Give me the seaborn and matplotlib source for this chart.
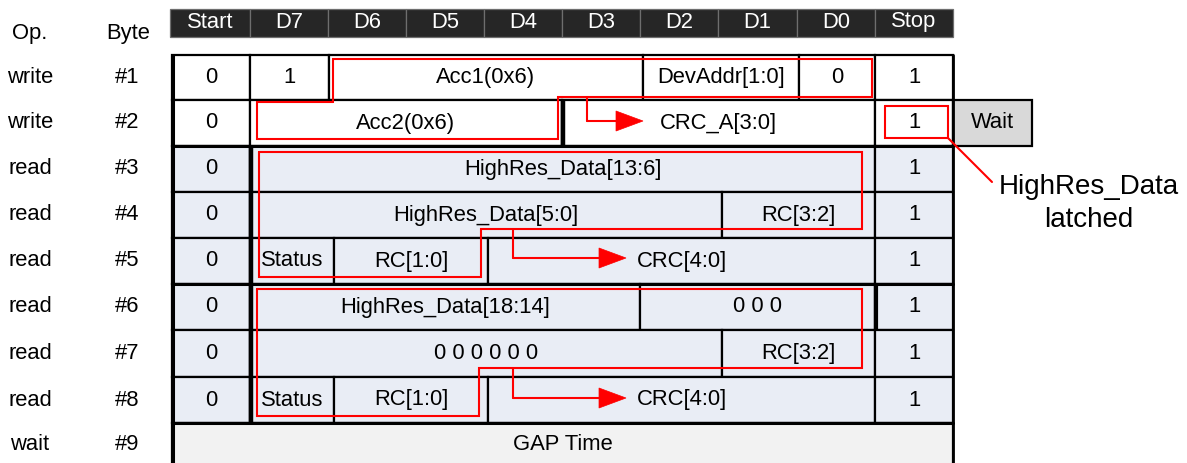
import matplotlib
matplotlib.use("Agg")
import matplotlib.pyplot as plt
from matplotlib.patches import Rectangle, Polygon
import seaborn as sns

sns.set_theme(style="white")
plt.rcParams['font.family'] = ['Liberation Sans', 'DejaVu Sans']
plt.rcParams['text.color'] = 'black'

# ---------------- data ----------------
header_labels = ["Start", "D7", "D6", "D5", "D4", "D3", "D2", "D1", "D0", "Stop"]
ops = ["write", "write", "read", "read", "read", "read", "read", "read", "wait"]
byte_ids = ["#1", "#2", "#3", "#4", "#5", "#6", "#7", "#8", "#9"]
start_bits = ["0", "0", "0", "0", "0", "0", "0", "0"]
stop_bits = ["1", "1", "1", "1", "1", "1", "1", "1"]
row_fields = [
    ["1", "Acc1(0x6)", "DevAddr[1:0]", "0"],
    ["Acc2(0x6)", "CRC_A[3:0]"],
    ["HighRes_Data[13:6]"],
    ["HighRes_Data[5:0]", "RC[3:2]"],
    ["Status", "RC[1:0]", "CRC[4:0]"],
    ["HighRes_Data[18:14]", "0 0 0"],
    ["0 0 0 0 0 0", "RC[3:2]"],
    ["Status", "RC[1:0]", "CRC[4:0]"],
]
gap_label = "GAP Time"
wait_label = "Wait"
note_lines = ["HighRes_Data", "latched"]

# ---------------- layout (pixels) ----------------
W, H = 1187, 463
col_edges = [172, 250, 328, 406, 484, 562, 640, 718, 797, 875, 953]
row_edges = [55, 100, 146, 192, 238, 284, 330, 377, 423, 470]
field_edges = [
    [250, 329, 643, 799, 875],
    [250, 562, 875],
    [250, 875],
    [250, 722, 875],
    [250, 334, 488, 875],
    [250, 640, 875],
    [250, 722, 875],
    [250, 334, 488, 875],
]
row_fill = ["white", "white"] + ["#e9edf5"] * 6
FS = 15.8
RED = "#ff0000"
LW = 1.6

fig = plt.figure(figsize=(W / 100, H / 100), dpi=100)
ax = fig.add_axes([0, 0, 1, 1])
ax.set_xlim(0, W)
ax.set_ylim(H, 0)
ax.axis("off")

# header
ax.text(30, 33, "Op.", ha="center", va="center", fontsize=FS, color="black")
ax.text(128, 33, "Byte", ha="center", va="center", fontsize=FS, color="black")
hx = [170] + col_edges[1:]
for i, lab in enumerate(header_labels):
    ax.add_patch(Rectangle((hx[i], 9), hx[i + 1] - hx[i], 28, facecolor="#262626",
                           edgecolor="#6e6e6e", lw=0.9))
    ax.text((hx[i] + hx[i + 1]) / 2, 22, lab, ha="center", va="center",
            fontsize=FS, color="white")

# row labels
for r in range(9):
    yc = (row_edges[r] + row_edges[r + 1]) / 2
    if r == 8:
        yc = 445
    ax.text(30, yc, ops[r], ha="center", va="center", fontsize=FS, color="black")
    ax.text(127, yc, byte_ids[r], ha="center", va="center", fontsize=FS, color="black")

def cell(x0, x1, y0, y1, label, fill, lw=LW):
    ax.add_patch(Rectangle((x0, y0), x1 - x0, y1 - y0, facecolor=fill,
                           edgecolor="black", lw=lw, zorder=1))
    if label:
        ax.text((x0 + x1) / 2, (y0 + y1) / 2, label, ha="center", va="center",
                fontsize=FS, color="black", zorder=3)

for r in range(8):
    y0, y1 = row_edges[r], row_edges[r + 1]
    cell(col_edges[0], col_edges[1], y0, y1, start_bits[r], row_fill[r])
    edges = field_edges[r]
    for k, lab in enumerate(row_fields[r]):
        cell(edges[k], edges[k + 1], y0, y1, lab, row_fill[r])
    cell(col_edges[9], col_edges[10], y0, y1, stop_bits[r], row_fill[r])

# wait cell
cell(953, 1032, row_edges[1], row_edges[2], wait_label, "#d9d9d9")
# gap row
ax.add_patch(Rectangle((172, 423), 953 - 172, 60, facecolor="#f2f2f2",
                       edgecolor="black", lw=LW, zorder=1))
ax.text(563, 445, gap_label, ha="center", va="center", fontsize=FS, color="black", zorder=3)

# thick separators
ax.plot([251, 251], [146, 423], color="black", lw=3.2, zorder=2, solid_capstyle="butt")
ax.plot([563, 563], [100, 146], color="black", lw=3.2, zorder=2, solid_capstyle="butt")
ax.plot([875.5, 875.5], [284, 330], color="black", lw=3.0, zorder=2, solid_capstyle="butt")
ax.plot([172, 953], [146, 146], color="black", lw=2.2, zorder=2)
ax.plot([172, 953], [284, 284], color="black", lw=2.2, zorder=2)
ax.plot([172, 953], [423, 423], color="black", lw=2.2, zorder=2)
ax.plot([173, 173], [55, 463], color="black", lw=2.2, zorder=2)
ax.plot([953, 953], [55, 463], color="black", lw=2.0, zorder=2)

# ---------------- red overlays ----------------
RLW = 1.5
def path(pts, closed=False):
    xs = [p[0] for p in pts]
    ys = [p[1] for p in pts]
    if closed:
        xs.append(xs[0]); ys.append(ys[0])
    ax.plot(xs, ys, color=RED, lw=RLW, zorder=4, solid_joinstyle="miter")

def arrow_to(x_start, x_tip, y):
    ax.plot([x_start, x_tip - 20], [y, y], color=RED, lw=RLW, zorder=4)
    ax.add_patch(Polygon([(x_tip - 27, y - 10), (x_tip, y), (x_tip - 27, y + 10)],
                         closed=True, facecolor=RED, edgecolor=RED, lw=0.5, zorder=4))

path([(333, 102), (333, 59), (872, 59), (872, 97), (558, 97), (558, 139),
      (257, 139), (257, 102)], closed=True)
path([(587, 97), (587, 121)])
arrow_to(587, 643, 121)

path([(259, 152), (862, 152), (862, 229), (481, 229), (481, 277), (259, 277)], closed=True)
path([(513, 229), (513, 258)])
arrow_to(513, 626, 258)

path([(257, 289), (862, 289), (862, 368), (479, 368), (479, 416), (257, 416)], closed=True)
path([(513, 368), (513, 398)])
arrow_to(513, 626, 398)

path([(885, 106), (948, 106), (948, 138), (885, 138)], closed=True)
path([(948, 138), (992, 182)])
ax.text(1089, 187, note_lines[0], ha="center", va="center", fontsize=20, color="black")
ax.text(1089, 220, note_lines[1], ha="center", va="center", fontsize=20, color="black")

fig.savefig("out.png", dpi=100)
